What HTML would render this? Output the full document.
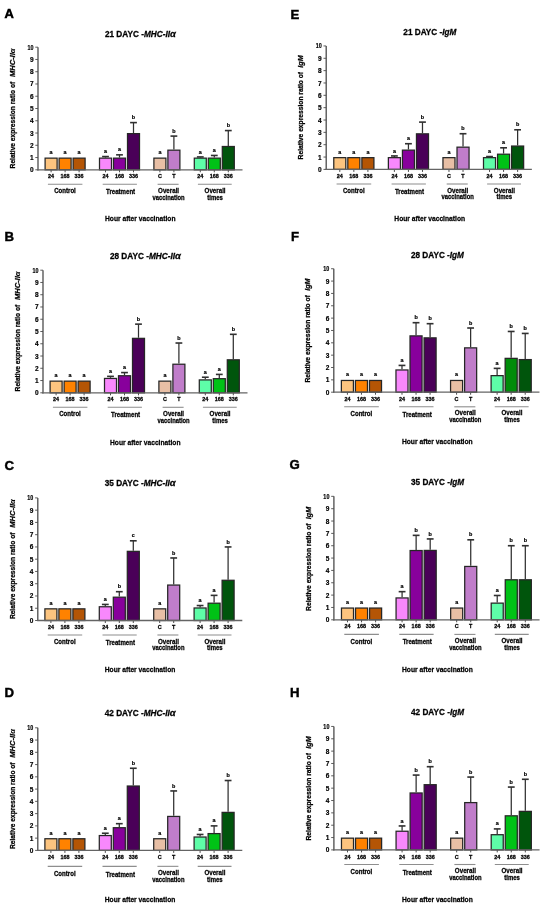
<!DOCTYPE html>
<html><head><meta charset="utf-8"><style>
html,body{margin:0;padding:0;background:#fff;overflow:hidden;}
body{width:550px;height:912px;}
#wrap{position:relative;width:550px;height:912px;overflow:hidden;}
#ss{position:absolute;left:0;top:0;width:1100px;height:1824px;transform:scale(0.5);transform-origin:0 0;will-change:transform;}
svg{display:block;filter:blur(0.8px);}
text{font-family:"Liberation Sans",sans-serif;font-weight:bold;fill:#000;stroke:#000;stroke-width:0.26px;}
.al{font-style:italic;font-size:1.15em;}
.al2{font-style:italic;stroke-width:0.1px;}
.L{font-size:13.2px;fill:#000;stroke:#000;stroke-width:0.45px;}
.T{font-size:8.2px;}
.Y{font-size:7.1px;}
.k{font-size:6.5px;stroke-width:0.2px;}
.k2{font-size:5.4px;stroke-width:0.26px;}
.s{font-size:5.4px;stroke-width:0.2px;}
.g{font-size:6.3px;}
.X{font-size:7.4px;}
</style></head><body><div id="wrap"><div id="ss">
<svg width="1100" height="1824" viewBox="0 0 550 912">
<rect width="550" height="912" fill="#fff"/>
<text x="4.4" y="18.2" class="L">A</text>
<g transform="translate(38,169.8)">
<text x="66.95" y="-133.3" class="T" textLength="70.9" lengthAdjust="spacingAndGlyphs">21 DAYC -<tspan font-style="italic">MHC-II</tspan><tspan class="al">α</tspan></text>
<g transform="translate(-23.3,0) rotate(-90)"><text x="1.4" class="Y" textLength="86.6" lengthAdjust="spacingAndGlyphs">Relative expression ratio of</text><text x="92.7" class="Y" textLength="28.6" lengthAdjust="spacingAndGlyphs"><tspan font-style="italic">MHC-II</tspan><tspan class="al2">α</tspan></text></g>
<path d="M0,-122.6V0.6" stroke="#4c4c4c" stroke-width="1.3" fill="none"/>
<path d="M-2.7,0H0M-2.7,-12.26H0M-2.7,-24.52H0M-2.7,-36.78H0M-2.7,-49.04H0M-2.7,-61.3H0M-2.7,-73.56H0M-2.7,-85.82H0M-2.7,-98.08H0M-2.7,-110.34H0M-2.7,-122.6H0" stroke="#4c4c4c" stroke-width="0.9" fill="none"/>
<text x="-4.5" y="2.5" class="k" text-anchor="end">0</text>
<text x="-4.5" y="-9.76" class="k" text-anchor="end">1</text>
<text x="-4.5" y="-22.02" class="k" text-anchor="end">2</text>
<text x="-4.5" y="-34.28" class="k" text-anchor="end">3</text>
<text x="-4.5" y="-46.54" class="k" text-anchor="end">4</text>
<text x="-4.5" y="-58.8" class="k" text-anchor="end">5</text>
<text x="-4.5" y="-71.06" class="k" text-anchor="end">6</text>
<text x="-4.5" y="-83.32" class="k" text-anchor="end">7</text>
<text x="-4.5" y="-95.58" class="k" text-anchor="end">8</text>
<text x="-4.5" y="-107.84" class="k" text-anchor="end">9</text>
<text x="-4.5" y="-120.1" class="k" text-anchor="end" textLength="6" lengthAdjust="spacingAndGlyphs">10</text>
<rect x="7.1" y="-11.66" width="12" height="11.66" fill="#FCC47F" stroke="#262626" stroke-width="1.25"/>
<text x="13.1" y="-15.66" class="s" text-anchor="middle">a</text>
<path d="M13.1,0V2.5" stroke="#3a3a3a" stroke-width="0.9"/>
<text x="13.1" y="8.6" class="k2" text-anchor="middle">24</text>
<rect x="21.1" y="-11.66" width="12" height="11.66" fill="#FF8200" stroke="#262626" stroke-width="1.25"/>
<text x="27.1" y="-15.66" class="s" text-anchor="middle">a</text>
<path d="M27.1,0V2.5" stroke="#3a3a3a" stroke-width="0.9"/>
<text x="27.1" y="8.6" class="k2" text-anchor="middle">168</text>
<rect x="35.1" y="-11.66" width="12" height="11.66" fill="#B45505" stroke="#262626" stroke-width="1.25"/>
<text x="41.1" y="-15.66" class="s" text-anchor="middle">a</text>
<path d="M41.1,0V2.5" stroke="#3a3a3a" stroke-width="0.9"/>
<text x="41.1" y="8.6" class="k2" text-anchor="middle">336</text>
<path d="M9.9,14.5H44.4" stroke="#8e8e8e" stroke-width="1.1"/>
<text x="16.2" y="23.7" class="g" textLength="21.6" lengthAdjust="spacingAndGlyphs">Control</text>
<rect x="61.5" y="-11.66" width="12" height="11.66" fill="#F888FC" stroke="#262626" stroke-width="1.25"/>
<path d="M67.5,-12.26V-13.24" stroke="#303030" stroke-width="1.25" fill="none"/><path d="M64.1,-13.24H70.9" stroke="#303030" stroke-width="1.6" fill="none"/>
<text x="67.5" y="-16.64" class="s" text-anchor="middle">a</text>
<path d="M67.5,0V2.5" stroke="#3a3a3a" stroke-width="0.9"/>
<text x="67.5" y="8.6" class="k2" text-anchor="middle">24</text>
<rect x="75.5" y="-11.66" width="12" height="11.66" fill="#88009C" stroke="#262626" stroke-width="1.25"/>
<path d="M81.5,-12.26V-14.96" stroke="#303030" stroke-width="1.25" fill="none"/><path d="M78.1,-14.96H84.9" stroke="#303030" stroke-width="1.6" fill="none"/>
<text x="81.5" y="-18.36" class="s" text-anchor="middle">a</text>
<path d="M81.5,0V2.5" stroke="#3a3a3a" stroke-width="0.9"/>
<text x="81.5" y="8.6" class="k2" text-anchor="middle">168</text>
<rect x="89.5" y="-36.18" width="12" height="36.18" fill="#4A0058" stroke="#262626" stroke-width="1.25"/>
<path d="M95.5,-36.78V-47.2" stroke="#303030" stroke-width="1.25" fill="none"/><path d="M92.1,-47.2H98.9" stroke="#303030" stroke-width="1.6" fill="none"/>
<text x="95.5" y="-50.6" class="s" text-anchor="middle">b</text>
<path d="M95.5,0V2.5" stroke="#3a3a3a" stroke-width="0.9"/>
<text x="95.5" y="8.6" class="k2" text-anchor="middle">336</text>
<path d="M64.7,14.5H98.9" stroke="#8e8e8e" stroke-width="1.1"/>
<text x="68.05" y="24.5" class="g" textLength="29.1" lengthAdjust="spacingAndGlyphs">Treatment</text>
<rect x="115.9" y="-11.66" width="12" height="11.66" fill="#E8BFA5" stroke="#262626" stroke-width="1.25"/>
<text x="121.9" y="-15.66" class="s" text-anchor="middle">a</text>
<path d="M121.9,0V2.5" stroke="#3a3a3a" stroke-width="0.9"/>
<text x="121.9" y="8.6" class="k2" text-anchor="middle">C</text>
<rect x="129.9" y="-19.63" width="12" height="19.63" fill="#C07DCA" stroke="#262626" stroke-width="1.25"/>
<path d="M135.9,-20.23V-33.71" stroke="#303030" stroke-width="1.25" fill="none"/><path d="M132.5,-33.71H139.3" stroke="#303030" stroke-width="1.6" fill="none"/>
<text x="135.9" y="-37.11" class="s" text-anchor="middle">b</text>
<path d="M135.9,0V2.5" stroke="#3a3a3a" stroke-width="0.9"/>
<text x="135.9" y="8.6" class="k2" text-anchor="middle">T</text>
<path d="M119.6,14.5H140.6" stroke="#8e8e8e" stroke-width="1.1"/>
<text x="120.1" y="23" class="g" textLength="21.0" lengthAdjust="spacingAndGlyphs">Overall</text>
<text x="114.5" y="29.9" class="g" textLength="32.2" lengthAdjust="spacingAndGlyphs">vaccination</text>
<rect x="156.3" y="-11.66" width="12" height="11.66" fill="#5EFDA8" stroke="#262626" stroke-width="1.25"/>
<path d="M162.3,-12.26V-12.87" stroke="#303030" stroke-width="1.25" fill="none"/><path d="M158.9,-12.87H165.7" stroke="#303030" stroke-width="1.6" fill="none"/>
<text x="162.3" y="-16.27" class="s" text-anchor="middle">a</text>
<path d="M162.3,0V2.5" stroke="#3a3a3a" stroke-width="0.9"/>
<text x="162.3" y="8.6" class="k2" text-anchor="middle">24</text>
<rect x="170.3" y="-11.66" width="12" height="11.66" fill="#00C216" stroke="#262626" stroke-width="1.25"/>
<path d="M176.3,-12.26V-14.34" stroke="#303030" stroke-width="1.25" fill="none"/><path d="M172.9,-14.34H179.7" stroke="#303030" stroke-width="1.6" fill="none"/>
<text x="176.3" y="-17.74" class="s" text-anchor="middle">a</text>
<path d="M176.3,0V2.5" stroke="#3a3a3a" stroke-width="0.9"/>
<text x="176.3" y="8.6" class="k2" text-anchor="middle">168</text>
<rect x="184.3" y="-23.31" width="12" height="23.31" fill="#00550C" stroke="#262626" stroke-width="1.25"/>
<path d="M190.3,-23.91V-39.23" stroke="#303030" stroke-width="1.25" fill="none"/><path d="M186.9,-39.23H193.7" stroke="#303030" stroke-width="1.6" fill="none"/>
<text x="190.3" y="-42.63" class="s" text-anchor="middle">b</text>
<path d="M190.3,0V2.5" stroke="#3a3a3a" stroke-width="0.9"/>
<text x="190.3" y="8.6" class="k2" text-anchor="middle">336</text>
<path d="M159.9,14.5H193.7" stroke="#8e8e8e" stroke-width="1.1"/>
<text x="166.6" y="23" class="g" textLength="21.0" lengthAdjust="spacingAndGlyphs">Overall</text>
<text x="169.3" y="29.9" class="g" textLength="15.6" lengthAdjust="spacingAndGlyphs">times</text>
<path d="M-0.65,0H204.5" stroke="#646464" stroke-width="1.3" fill="none"/>
<text x="67" y="51.4" class="X" textLength="70.5" lengthAdjust="spacingAndGlyphs">Hour after vaccination</text>
</g>
<text x="4.5" y="241.3" class="L">B</text>
<g transform="translate(43,392.8)">
<text x="66.95" y="-133.7" class="T" textLength="70.9" lengthAdjust="spacingAndGlyphs">28 DAYC -<tspan font-style="italic">MHC-II</tspan><tspan class="al">α</tspan></text>
<g transform="translate(-23.3,0) rotate(-90)"><text x="1.4" class="Y" textLength="86.6" lengthAdjust="spacingAndGlyphs">Relative expression ratio of</text><text x="92.7" class="Y" textLength="28.6" lengthAdjust="spacingAndGlyphs"><tspan font-style="italic">MHC-II</tspan><tspan class="al2">α</tspan></text></g>
<path d="M0,-122.6V0.6" stroke="#4c4c4c" stroke-width="1.3" fill="none"/>
<path d="M-2.7,0H0M-2.7,-12.26H0M-2.7,-24.52H0M-2.7,-36.78H0M-2.7,-49.04H0M-2.7,-61.3H0M-2.7,-73.56H0M-2.7,-85.82H0M-2.7,-98.08H0M-2.7,-110.34H0M-2.7,-122.6H0" stroke="#4c4c4c" stroke-width="0.9" fill="none"/>
<text x="-4.5" y="2.5" class="k" text-anchor="end">0</text>
<text x="-4.5" y="-9.76" class="k" text-anchor="end">1</text>
<text x="-4.5" y="-22.02" class="k" text-anchor="end">2</text>
<text x="-4.5" y="-34.28" class="k" text-anchor="end">3</text>
<text x="-4.5" y="-46.54" class="k" text-anchor="end">4</text>
<text x="-4.5" y="-58.8" class="k" text-anchor="end">5</text>
<text x="-4.5" y="-71.06" class="k" text-anchor="end">6</text>
<text x="-4.5" y="-83.32" class="k" text-anchor="end">7</text>
<text x="-4.5" y="-95.58" class="k" text-anchor="end">8</text>
<text x="-4.5" y="-107.84" class="k" text-anchor="end">9</text>
<text x="-4.5" y="-120.1" class="k" text-anchor="end" textLength="6" lengthAdjust="spacingAndGlyphs">10</text>
<rect x="7.1" y="-11.66" width="12" height="11.66" fill="#FCC47F" stroke="#262626" stroke-width="1.25"/>
<text x="13.1" y="-15.66" class="s" text-anchor="middle">a</text>
<path d="M13.1,0V2.5" stroke="#3a3a3a" stroke-width="0.9"/>
<text x="13.1" y="8.6" class="k2" text-anchor="middle">24</text>
<rect x="21.1" y="-11.66" width="12" height="11.66" fill="#FF8200" stroke="#262626" stroke-width="1.25"/>
<text x="27.1" y="-15.66" class="s" text-anchor="middle">a</text>
<path d="M27.1,0V2.5" stroke="#3a3a3a" stroke-width="0.9"/>
<text x="27.1" y="8.6" class="k2" text-anchor="middle">168</text>
<rect x="35.1" y="-11.66" width="12" height="11.66" fill="#B45505" stroke="#262626" stroke-width="1.25"/>
<text x="41.1" y="-15.66" class="s" text-anchor="middle">a</text>
<path d="M41.1,0V2.5" stroke="#3a3a3a" stroke-width="0.9"/>
<text x="41.1" y="8.6" class="k2" text-anchor="middle">336</text>
<path d="M9.9,14.5H44.4" stroke="#8e8e8e" stroke-width="1.1"/>
<text x="16.2" y="23.7" class="g" textLength="21.6" lengthAdjust="spacingAndGlyphs">Control</text>
<rect x="61.5" y="-14.36" width="12" height="14.36" fill="#F888FC" stroke="#262626" stroke-width="1.25"/>
<path d="M67.5,-14.96V-16.43" stroke="#303030" stroke-width="1.25" fill="none"/><path d="M64.1,-16.43H70.9" stroke="#303030" stroke-width="1.6" fill="none"/>
<text x="67.5" y="-19.83" class="s" text-anchor="middle">a</text>
<path d="M67.5,0V2.5" stroke="#3a3a3a" stroke-width="0.9"/>
<text x="67.5" y="8.6" class="k2" text-anchor="middle">24</text>
<rect x="75.5" y="-17.05" width="12" height="17.05" fill="#88009C" stroke="#262626" stroke-width="1.25"/>
<path d="M81.5,-17.65V-20.23" stroke="#303030" stroke-width="1.25" fill="none"/><path d="M78.1,-20.23H84.9" stroke="#303030" stroke-width="1.6" fill="none"/>
<text x="81.5" y="-23.63" class="s" text-anchor="middle">a</text>
<path d="M81.5,0V2.5" stroke="#3a3a3a" stroke-width="0.9"/>
<text x="81.5" y="8.6" class="k2" text-anchor="middle">168</text>
<rect x="89.5" y="-54.45" width="12" height="54.45" fill="#4A0058" stroke="#262626" stroke-width="1.25"/>
<path d="M95.5,-55.05V-68.66" stroke="#303030" stroke-width="1.25" fill="none"/><path d="M92.1,-68.66H98.9" stroke="#303030" stroke-width="1.6" fill="none"/>
<text x="95.5" y="-72.06" class="s" text-anchor="middle">b</text>
<path d="M95.5,0V2.5" stroke="#3a3a3a" stroke-width="0.9"/>
<text x="95.5" y="8.6" class="k2" text-anchor="middle">336</text>
<path d="M64.7,14.5H98.9" stroke="#8e8e8e" stroke-width="1.1"/>
<text x="68.05" y="24.5" class="g" textLength="29.1" lengthAdjust="spacingAndGlyphs">Treatment</text>
<rect x="115.9" y="-11.66" width="12" height="11.66" fill="#E8BFA5" stroke="#262626" stroke-width="1.25"/>
<text x="121.9" y="-15.66" class="s" text-anchor="middle">a</text>
<path d="M121.9,0V2.5" stroke="#3a3a3a" stroke-width="0.9"/>
<text x="121.9" y="8.6" class="k2" text-anchor="middle">C</text>
<rect x="129.9" y="-28.58" width="12" height="28.58" fill="#C07DCA" stroke="#262626" stroke-width="1.25"/>
<path d="M135.9,-29.18V-49.78" stroke="#303030" stroke-width="1.25" fill="none"/><path d="M132.5,-49.78H139.3" stroke="#303030" stroke-width="1.6" fill="none"/>
<text x="135.9" y="-53.18" class="s" text-anchor="middle">b</text>
<path d="M135.9,0V2.5" stroke="#3a3a3a" stroke-width="0.9"/>
<text x="135.9" y="8.6" class="k2" text-anchor="middle">T</text>
<path d="M119.6,14.5H140.6" stroke="#8e8e8e" stroke-width="1.1"/>
<text x="120.1" y="23" class="g" textLength="21.0" lengthAdjust="spacingAndGlyphs">Overall</text>
<text x="114.5" y="29.9" class="g" textLength="32.2" lengthAdjust="spacingAndGlyphs">vaccination</text>
<rect x="156.3" y="-12.89" width="12" height="12.89" fill="#5EFDA8" stroke="#262626" stroke-width="1.25"/>
<path d="M162.3,-13.49V-15.57" stroke="#303030" stroke-width="1.25" fill="none"/><path d="M158.9,-15.57H165.7" stroke="#303030" stroke-width="1.6" fill="none"/>
<text x="162.3" y="-18.97" class="s" text-anchor="middle">a</text>
<path d="M162.3,0V2.5" stroke="#3a3a3a" stroke-width="0.9"/>
<text x="162.3" y="8.6" class="k2" text-anchor="middle">24</text>
<rect x="170.3" y="-14.11" width="12" height="14.11" fill="#00C216" stroke="#262626" stroke-width="1.25"/>
<path d="M176.3,-14.71V-18.39" stroke="#303030" stroke-width="1.25" fill="none"/><path d="M172.9,-18.39H179.7" stroke="#303030" stroke-width="1.6" fill="none"/>
<text x="176.3" y="-21.79" class="s" text-anchor="middle">a</text>
<path d="M176.3,0V2.5" stroke="#3a3a3a" stroke-width="0.9"/>
<text x="176.3" y="8.6" class="k2" text-anchor="middle">168</text>
<rect x="184.3" y="-32.99" width="12" height="32.99" fill="#00550C" stroke="#262626" stroke-width="1.25"/>
<path d="M190.3,-33.59V-58.48" stroke="#303030" stroke-width="1.25" fill="none"/><path d="M186.9,-58.48H193.7" stroke="#303030" stroke-width="1.6" fill="none"/>
<text x="190.3" y="-61.88" class="s" text-anchor="middle">b</text>
<path d="M190.3,0V2.5" stroke="#3a3a3a" stroke-width="0.9"/>
<text x="190.3" y="8.6" class="k2" text-anchor="middle">336</text>
<path d="M159.9,14.5H193.7" stroke="#8e8e8e" stroke-width="1.1"/>
<text x="166.6" y="23" class="g" textLength="21.0" lengthAdjust="spacingAndGlyphs">Overall</text>
<text x="169.3" y="29.9" class="g" textLength="15.6" lengthAdjust="spacingAndGlyphs">times</text>
<path d="M-0.65,0H204.5" stroke="#646464" stroke-width="1.3" fill="none"/>
<text x="67" y="52" class="X" textLength="70.5" lengthAdjust="spacingAndGlyphs">Hour after vaccination</text>
</g>
<text x="4.5" y="469.6" class="L">C</text>
<g transform="translate(37.8,620.5)">
<text x="66.95" y="-134.3" class="T" textLength="70.9" lengthAdjust="spacingAndGlyphs">35 DAYC -<tspan font-style="italic">MHC-II</tspan><tspan class="al">α</tspan></text>
<g transform="translate(-23.3,0) rotate(-90)"><text x="1.4" class="Y" textLength="86.6" lengthAdjust="spacingAndGlyphs">Relative expression ratio of</text><text x="92.7" class="Y" textLength="28.6" lengthAdjust="spacingAndGlyphs"><tspan font-style="italic">MHC-II</tspan><tspan class="al2">α</tspan></text></g>
<path d="M0,-122.6V0.6" stroke="#4c4c4c" stroke-width="1.3" fill="none"/>
<path d="M-2.7,0H0M-2.7,-12.26H0M-2.7,-24.52H0M-2.7,-36.78H0M-2.7,-49.04H0M-2.7,-61.3H0M-2.7,-73.56H0M-2.7,-85.82H0M-2.7,-98.08H0M-2.7,-110.34H0M-2.7,-122.6H0" stroke="#4c4c4c" stroke-width="0.9" fill="none"/>
<text x="-4.5" y="2.5" class="k" text-anchor="end">0</text>
<text x="-4.5" y="-9.76" class="k" text-anchor="end">1</text>
<text x="-4.5" y="-22.02" class="k" text-anchor="end">2</text>
<text x="-4.5" y="-34.28" class="k" text-anchor="end">3</text>
<text x="-4.5" y="-46.54" class="k" text-anchor="end">4</text>
<text x="-4.5" y="-58.8" class="k" text-anchor="end">5</text>
<text x="-4.5" y="-71.06" class="k" text-anchor="end">6</text>
<text x="-4.5" y="-83.32" class="k" text-anchor="end">7</text>
<text x="-4.5" y="-95.58" class="k" text-anchor="end">8</text>
<text x="-4.5" y="-107.84" class="k" text-anchor="end">9</text>
<text x="-4.5" y="-120.1" class="k" text-anchor="end" textLength="6" lengthAdjust="spacingAndGlyphs">10</text>
<rect x="7.1" y="-11.66" width="12" height="11.66" fill="#FCC47F" stroke="#262626" stroke-width="1.25"/>
<text x="13.1" y="-15.66" class="s" text-anchor="middle">a</text>
<path d="M13.1,0V2.5" stroke="#3a3a3a" stroke-width="0.9"/>
<text x="13.1" y="8.6" class="k2" text-anchor="middle">24</text>
<rect x="21.1" y="-11.66" width="12" height="11.66" fill="#FF8200" stroke="#262626" stroke-width="1.25"/>
<text x="27.1" y="-15.66" class="s" text-anchor="middle">a</text>
<path d="M27.1,0V2.5" stroke="#3a3a3a" stroke-width="0.9"/>
<text x="27.1" y="8.6" class="k2" text-anchor="middle">168</text>
<rect x="35.1" y="-11.66" width="12" height="11.66" fill="#B45505" stroke="#262626" stroke-width="1.25"/>
<text x="41.1" y="-15.66" class="s" text-anchor="middle">a</text>
<path d="M41.1,0V2.5" stroke="#3a3a3a" stroke-width="0.9"/>
<text x="41.1" y="8.6" class="k2" text-anchor="middle">336</text>
<path d="M9.9,14.5H44.4" stroke="#8e8e8e" stroke-width="1.1"/>
<text x="16.2" y="23.7" class="g" textLength="21.6" lengthAdjust="spacingAndGlyphs">Control</text>
<rect x="61.5" y="-13.74" width="12" height="13.74" fill="#F888FC" stroke="#262626" stroke-width="1.25"/>
<path d="M67.5,-14.34V-16.06" stroke="#303030" stroke-width="1.25" fill="none"/><path d="M64.1,-16.06H70.9" stroke="#303030" stroke-width="1.6" fill="none"/>
<text x="67.5" y="-19.46" class="s" text-anchor="middle">a</text>
<path d="M67.5,0V2.5" stroke="#3a3a3a" stroke-width="0.9"/>
<text x="67.5" y="8.6" class="k2" text-anchor="middle">24</text>
<rect x="75.5" y="-23.31" width="12" height="23.31" fill="#88009C" stroke="#262626" stroke-width="1.25"/>
<path d="M81.5,-23.91V-28.81" stroke="#303030" stroke-width="1.25" fill="none"/><path d="M78.1,-28.81H84.9" stroke="#303030" stroke-width="1.6" fill="none"/>
<text x="81.5" y="-32.21" class="s" text-anchor="middle">b</text>
<path d="M81.5,0V2.5" stroke="#3a3a3a" stroke-width="0.9"/>
<text x="81.5" y="8.6" class="k2" text-anchor="middle">168</text>
<rect x="89.5" y="-69.16" width="12" height="69.16" fill="#4A0058" stroke="#262626" stroke-width="1.25"/>
<path d="M95.5,-69.76V-79.69" stroke="#303030" stroke-width="1.25" fill="none"/><path d="M92.1,-79.69H98.9" stroke="#303030" stroke-width="1.6" fill="none"/>
<text x="95.5" y="-83.09" class="s" text-anchor="middle">c</text>
<path d="M95.5,0V2.5" stroke="#3a3a3a" stroke-width="0.9"/>
<text x="95.5" y="8.6" class="k2" text-anchor="middle">336</text>
<path d="M64.7,14.5H98.9" stroke="#8e8e8e" stroke-width="1.1"/>
<text x="68.05" y="24.5" class="g" textLength="29.1" lengthAdjust="spacingAndGlyphs">Treatment</text>
<rect x="115.9" y="-11.66" width="12" height="11.66" fill="#E8BFA5" stroke="#262626" stroke-width="1.25"/>
<text x="121.9" y="-15.66" class="s" text-anchor="middle">a</text>
<path d="M121.9,0V2.5" stroke="#3a3a3a" stroke-width="0.9"/>
<text x="121.9" y="8.6" class="k2" text-anchor="middle">C</text>
<rect x="129.9" y="-35.44" width="12" height="35.44" fill="#C07DCA" stroke="#262626" stroke-width="1.25"/>
<path d="M135.9,-36.04V-62.53" stroke="#303030" stroke-width="1.25" fill="none"/><path d="M132.5,-62.53H139.3" stroke="#303030" stroke-width="1.6" fill="none"/>
<text x="135.9" y="-65.93" class="s" text-anchor="middle">b</text>
<path d="M135.9,0V2.5" stroke="#3a3a3a" stroke-width="0.9"/>
<text x="135.9" y="8.6" class="k2" text-anchor="middle">T</text>
<path d="M119.6,14.5H140.6" stroke="#8e8e8e" stroke-width="1.1"/>
<text x="120.1" y="23" class="g" textLength="21.0" lengthAdjust="spacingAndGlyphs">Overall</text>
<text x="114.5" y="29.9" class="g" textLength="32.2" lengthAdjust="spacingAndGlyphs">vaccination</text>
<rect x="156.3" y="-12.52" width="12" height="12.52" fill="#5EFDA8" stroke="#262626" stroke-width="1.25"/>
<path d="M162.3,-13.12V-14.96" stroke="#303030" stroke-width="1.25" fill="none"/><path d="M158.9,-14.96H165.7" stroke="#303030" stroke-width="1.6" fill="none"/>
<text x="162.3" y="-18.36" class="s" text-anchor="middle">a</text>
<path d="M162.3,0V2.5" stroke="#3a3a3a" stroke-width="0.9"/>
<text x="162.3" y="8.6" class="k2" text-anchor="middle">24</text>
<rect x="170.3" y="-17.3" width="12" height="17.3" fill="#00C216" stroke="#262626" stroke-width="1.25"/>
<path d="M176.3,-17.9V-25.13" stroke="#303030" stroke-width="1.25" fill="none"/><path d="M172.9,-25.13H179.7" stroke="#303030" stroke-width="1.6" fill="none"/>
<text x="176.3" y="-28.53" class="s" text-anchor="middle">a</text>
<path d="M176.3,0V2.5" stroke="#3a3a3a" stroke-width="0.9"/>
<text x="176.3" y="8.6" class="k2" text-anchor="middle">168</text>
<rect x="184.3" y="-40.23" width="12" height="40.23" fill="#00550C" stroke="#262626" stroke-width="1.25"/>
<path d="M190.3,-40.83V-73.56" stroke="#303030" stroke-width="1.25" fill="none"/><path d="M186.9,-73.56H193.7" stroke="#303030" stroke-width="1.6" fill="none"/>
<text x="190.3" y="-76.96" class="s" text-anchor="middle">b</text>
<path d="M190.3,0V2.5" stroke="#3a3a3a" stroke-width="0.9"/>
<text x="190.3" y="8.6" class="k2" text-anchor="middle">336</text>
<path d="M159.9,14.5H193.7" stroke="#8e8e8e" stroke-width="1.1"/>
<text x="166.6" y="23" class="g" textLength="21.0" lengthAdjust="spacingAndGlyphs">Overall</text>
<text x="169.3" y="29.9" class="g" textLength="15.6" lengthAdjust="spacingAndGlyphs">times</text>
<path d="M-0.65,0H204.5" stroke="#646464" stroke-width="1.3" fill="none"/>
<text x="67" y="51.4" class="X" textLength="70.5" lengthAdjust="spacingAndGlyphs">Hour after vaccination</text>
</g>
<text x="4.5" y="697.3" class="L">D</text>
<g transform="translate(37.8,850.4)">
<text x="66.95" y="-134" class="T" textLength="70.9" lengthAdjust="spacingAndGlyphs">42 DAYC -<tspan font-style="italic">MHC-II</tspan><tspan class="al">α</tspan></text>
<g transform="translate(-23.3,0) rotate(-90)"><text x="1.4" class="Y" textLength="86.6" lengthAdjust="spacingAndGlyphs">Relative expression ratio of</text><text x="92.7" class="Y" textLength="28.6" lengthAdjust="spacingAndGlyphs"><tspan font-style="italic">MHC-II</tspan><tspan class="al2">α</tspan></text></g>
<path d="M0,-122.6V0.6" stroke="#4c4c4c" stroke-width="1.3" fill="none"/>
<path d="M-2.7,0H0M-2.7,-12.26H0M-2.7,-24.52H0M-2.7,-36.78H0M-2.7,-49.04H0M-2.7,-61.3H0M-2.7,-73.56H0M-2.7,-85.82H0M-2.7,-98.08H0M-2.7,-110.34H0M-2.7,-122.6H0" stroke="#4c4c4c" stroke-width="0.9" fill="none"/>
<text x="-4.5" y="2.5" class="k" text-anchor="end">0</text>
<text x="-4.5" y="-9.76" class="k" text-anchor="end">1</text>
<text x="-4.5" y="-22.02" class="k" text-anchor="end">2</text>
<text x="-4.5" y="-34.28" class="k" text-anchor="end">3</text>
<text x="-4.5" y="-46.54" class="k" text-anchor="end">4</text>
<text x="-4.5" y="-58.8" class="k" text-anchor="end">5</text>
<text x="-4.5" y="-71.06" class="k" text-anchor="end">6</text>
<text x="-4.5" y="-83.32" class="k" text-anchor="end">7</text>
<text x="-4.5" y="-95.58" class="k" text-anchor="end">8</text>
<text x="-4.5" y="-107.84" class="k" text-anchor="end">9</text>
<text x="-4.5" y="-120.1" class="k" text-anchor="end" textLength="6" lengthAdjust="spacingAndGlyphs">10</text>
<rect x="7.1" y="-11.66" width="12" height="11.66" fill="#FCC47F" stroke="#262626" stroke-width="1.25"/>
<text x="13.1" y="-15.66" class="s" text-anchor="middle">a</text>
<path d="M13.1,0V2.5" stroke="#3a3a3a" stroke-width="0.9"/>
<text x="13.1" y="8.6" class="k2" text-anchor="middle">24</text>
<rect x="21.1" y="-11.66" width="12" height="11.66" fill="#FF8200" stroke="#262626" stroke-width="1.25"/>
<text x="27.1" y="-15.66" class="s" text-anchor="middle">a</text>
<path d="M27.1,0V2.5" stroke="#3a3a3a" stroke-width="0.9"/>
<text x="27.1" y="8.6" class="k2" text-anchor="middle">168</text>
<rect x="35.1" y="-11.66" width="12" height="11.66" fill="#B45505" stroke="#262626" stroke-width="1.25"/>
<text x="41.1" y="-15.66" class="s" text-anchor="middle">a</text>
<path d="M41.1,0V2.5" stroke="#3a3a3a" stroke-width="0.9"/>
<text x="41.1" y="8.6" class="k2" text-anchor="middle">336</text>
<path d="M9.9,15.94H44.4" stroke="#8e8e8e" stroke-width="1.1"/>
<text x="16.2" y="25.5" class="g" textLength="21.6" lengthAdjust="spacingAndGlyphs">Control</text>
<rect x="61.5" y="-14.85" width="12" height="14.85" fill="#F888FC" stroke="#262626" stroke-width="1.25"/>
<path d="M67.5,-15.45V-17.16" stroke="#303030" stroke-width="1.25" fill="none"/><path d="M64.1,-17.16H70.9" stroke="#303030" stroke-width="1.6" fill="none"/>
<text x="67.5" y="-20.56" class="s" text-anchor="middle">a</text>
<path d="M67.5,0V2.5" stroke="#3a3a3a" stroke-width="0.9"/>
<text x="67.5" y="8.6" class="k2" text-anchor="middle">24</text>
<rect x="75.5" y="-22.69" width="12" height="22.69" fill="#88009C" stroke="#262626" stroke-width="1.25"/>
<path d="M81.5,-23.29V-26.73" stroke="#303030" stroke-width="1.25" fill="none"/><path d="M78.1,-26.73H84.9" stroke="#303030" stroke-width="1.6" fill="none"/>
<text x="81.5" y="-30.13" class="s" text-anchor="middle">a</text>
<path d="M81.5,0V2.5" stroke="#3a3a3a" stroke-width="0.9"/>
<text x="81.5" y="8.6" class="k2" text-anchor="middle">168</text>
<rect x="89.5" y="-64.38" width="12" height="64.38" fill="#4A0058" stroke="#262626" stroke-width="1.25"/>
<path d="M95.5,-64.98V-82.14" stroke="#303030" stroke-width="1.25" fill="none"/><path d="M92.1,-82.14H98.9" stroke="#303030" stroke-width="1.6" fill="none"/>
<text x="95.5" y="-85.54" class="s" text-anchor="middle">b</text>
<path d="M95.5,0V2.5" stroke="#3a3a3a" stroke-width="0.9"/>
<text x="95.5" y="8.6" class="k2" text-anchor="middle">336</text>
<path d="M64.7,15.94H98.9" stroke="#8e8e8e" stroke-width="1.1"/>
<text x="68.05" y="26.3" class="g" textLength="29.1" lengthAdjust="spacingAndGlyphs">Treatment</text>
<rect x="115.9" y="-11.66" width="12" height="11.66" fill="#E8BFA5" stroke="#262626" stroke-width="1.25"/>
<text x="121.9" y="-15.66" class="s" text-anchor="middle">a</text>
<path d="M121.9,0V2.5" stroke="#3a3a3a" stroke-width="0.9"/>
<text x="121.9" y="8.6" class="k2" text-anchor="middle">C</text>
<rect x="129.9" y="-33.97" width="12" height="33.97" fill="#C07DCA" stroke="#262626" stroke-width="1.25"/>
<path d="M135.9,-34.57V-59.46" stroke="#303030" stroke-width="1.25" fill="none"/><path d="M132.5,-59.46H139.3" stroke="#303030" stroke-width="1.6" fill="none"/>
<text x="135.9" y="-62.86" class="s" text-anchor="middle">b</text>
<path d="M135.9,0V2.5" stroke="#3a3a3a" stroke-width="0.9"/>
<text x="135.9" y="8.6" class="k2" text-anchor="middle">T</text>
<path d="M119.6,15.94H140.6" stroke="#8e8e8e" stroke-width="1.1"/>
<text x="120.1" y="24.8" class="g" textLength="21.0" lengthAdjust="spacingAndGlyphs">Overall</text>
<text x="114.5" y="31.7" class="g" textLength="32.2" lengthAdjust="spacingAndGlyphs">vaccination</text>
<rect x="156.3" y="-13.38" width="12" height="13.38" fill="#5EFDA8" stroke="#262626" stroke-width="1.25"/>
<path d="M162.3,-13.98V-15.94" stroke="#303030" stroke-width="1.25" fill="none"/><path d="M158.9,-15.94H165.7" stroke="#303030" stroke-width="1.6" fill="none"/>
<text x="162.3" y="-19.34" class="s" text-anchor="middle">a</text>
<path d="M162.3,0V2.5" stroke="#3a3a3a" stroke-width="0.9"/>
<text x="162.3" y="8.6" class="k2" text-anchor="middle">24</text>
<rect x="170.3" y="-16.81" width="12" height="16.81" fill="#00C216" stroke="#262626" stroke-width="1.25"/>
<path d="M176.3,-17.41V-24.52" stroke="#303030" stroke-width="1.25" fill="none"/><path d="M172.9,-24.52H179.7" stroke="#303030" stroke-width="1.6" fill="none"/>
<text x="176.3" y="-27.92" class="s" text-anchor="middle">a</text>
<path d="M176.3,0V2.5" stroke="#3a3a3a" stroke-width="0.9"/>
<text x="176.3" y="8.6" class="k2" text-anchor="middle">168</text>
<rect x="184.3" y="-38.02" width="12" height="38.02" fill="#00550C" stroke="#262626" stroke-width="1.25"/>
<path d="M190.3,-38.62V-69.88" stroke="#303030" stroke-width="1.25" fill="none"/><path d="M186.9,-69.88H193.7" stroke="#303030" stroke-width="1.6" fill="none"/>
<text x="190.3" y="-73.28" class="s" text-anchor="middle">b</text>
<path d="M190.3,0V2.5" stroke="#3a3a3a" stroke-width="0.9"/>
<text x="190.3" y="8.6" class="k2" text-anchor="middle">336</text>
<path d="M159.9,15.94H193.7" stroke="#8e8e8e" stroke-width="1.1"/>
<text x="166.6" y="24.8" class="g" textLength="21.0" lengthAdjust="spacingAndGlyphs">Overall</text>
<text x="169.3" y="31.7" class="g" textLength="15.6" lengthAdjust="spacingAndGlyphs">times</text>
<path d="M-0.65,0H204.5" stroke="#646464" stroke-width="1.3" fill="none"/>
<text x="67" y="51.4" class="X" textLength="70.5" lengthAdjust="spacingAndGlyphs">Hour after vaccination</text>
</g>
<text x="290.5" y="18.5" class="L">E</text>
<g transform="translate(326.2,169.4) scale(1.0035,1.007)">
<text x="76.9" y="-133.3" class="T" textLength="52.8" lengthAdjust="spacingAndGlyphs">21 DAYC -<tspan font-style="italic">IgM</tspan></text>
<g transform="translate(-23.3,0) rotate(-90)"><text x="9.95" class="Y" textLength="86.8" lengthAdjust="spacingAndGlyphs">Relative expression ratio of</text><text x="101.05" class="Y" textLength="12.3" lengthAdjust="spacingAndGlyphs"><tspan font-style="italic">IgM</tspan></text></g>
<path d="M0,-122.6V0.6" stroke="#4c4c4c" stroke-width="1.3" fill="none"/>
<path d="M-2.7,0H0M-2.7,-12.26H0M-2.7,-24.52H0M-2.7,-36.78H0M-2.7,-49.04H0M-2.7,-61.3H0M-2.7,-73.56H0M-2.7,-85.82H0M-2.7,-98.08H0M-2.7,-110.34H0M-2.7,-122.6H0" stroke="#4c4c4c" stroke-width="0.9" fill="none"/>
<text x="-4.5" y="2.5" class="k" text-anchor="end">0</text>
<text x="-4.5" y="-9.76" class="k" text-anchor="end">1</text>
<text x="-4.5" y="-22.02" class="k" text-anchor="end">2</text>
<text x="-4.5" y="-34.28" class="k" text-anchor="end">3</text>
<text x="-4.5" y="-46.54" class="k" text-anchor="end">4</text>
<text x="-4.5" y="-58.8" class="k" text-anchor="end">5</text>
<text x="-4.5" y="-71.06" class="k" text-anchor="end">6</text>
<text x="-4.5" y="-83.32" class="k" text-anchor="end">7</text>
<text x="-4.5" y="-95.58" class="k" text-anchor="end">8</text>
<text x="-4.5" y="-107.84" class="k" text-anchor="end">9</text>
<text x="-4.5" y="-120.1" class="k" text-anchor="end" textLength="6" lengthAdjust="spacingAndGlyphs">10</text>
<rect x="7.55" y="-11.66" width="12" height="11.66" fill="#FCC47F" stroke="#262626" stroke-width="1.25"/>
<text x="13.55" y="-15.66" class="s" text-anchor="middle">a</text>
<path d="M13.55,0V2.5" stroke="#3a3a3a" stroke-width="0.9"/>
<text x="13.55" y="8.6" class="k2" text-anchor="middle">24</text>
<rect x="21.55" y="-11.66" width="12" height="11.66" fill="#FF8200" stroke="#262626" stroke-width="1.25"/>
<text x="27.55" y="-15.66" class="s" text-anchor="middle">a</text>
<path d="M27.55,0V2.5" stroke="#3a3a3a" stroke-width="0.9"/>
<text x="27.55" y="8.6" class="k2" text-anchor="middle">168</text>
<rect x="35.55" y="-11.66" width="12" height="11.66" fill="#B45505" stroke="#262626" stroke-width="1.25"/>
<text x="41.55" y="-15.66" class="s" text-anchor="middle">a</text>
<path d="M41.55,0V2.5" stroke="#3a3a3a" stroke-width="0.9"/>
<text x="41.55" y="8.6" class="k2" text-anchor="middle">336</text>
<path d="M10.35,14.5H44.85" stroke="#8e8e8e" stroke-width="1.1"/>
<text x="16.65" y="23.7" class="g" textLength="21.6" lengthAdjust="spacingAndGlyphs">Control</text>
<rect x="61.95" y="-11.66" width="12" height="11.66" fill="#F888FC" stroke="#262626" stroke-width="1.25"/>
<path d="M67.95,-12.26V-13.36" stroke="#303030" stroke-width="1.25" fill="none"/><path d="M64.55,-13.36H71.35" stroke="#303030" stroke-width="1.6" fill="none"/>
<text x="67.95" y="-16.76" class="s" text-anchor="middle">a</text>
<path d="M67.95,0V2.5" stroke="#3a3a3a" stroke-width="0.9"/>
<text x="67.95" y="8.6" class="k2" text-anchor="middle">24</text>
<rect x="75.95" y="-19.14" width="12" height="19.14" fill="#88009C" stroke="#262626" stroke-width="1.25"/>
<path d="M81.95,-19.74V-25.5" stroke="#303030" stroke-width="1.25" fill="none"/><path d="M78.55,-25.5H85.35" stroke="#303030" stroke-width="1.6" fill="none"/>
<text x="81.95" y="-28.9" class="s" text-anchor="middle">a</text>
<path d="M81.95,0V2.5" stroke="#3a3a3a" stroke-width="0.9"/>
<text x="81.95" y="8.6" class="k2" text-anchor="middle">168</text>
<rect x="89.95" y="-35.32" width="12" height="35.32" fill="#4A0058" stroke="#262626" stroke-width="1.25"/>
<path d="M95.95,-35.92V-46.96" stroke="#303030" stroke-width="1.25" fill="none"/><path d="M92.55,-46.96H99.35" stroke="#303030" stroke-width="1.6" fill="none"/>
<text x="95.95" y="-50.36" class="s" text-anchor="middle">b</text>
<path d="M95.95,0V2.5" stroke="#3a3a3a" stroke-width="0.9"/>
<text x="95.95" y="8.6" class="k2" text-anchor="middle">336</text>
<path d="M65.15,14.5H99.35" stroke="#8e8e8e" stroke-width="1.1"/>
<text x="68.5" y="24.5" class="g" textLength="29.1" lengthAdjust="spacingAndGlyphs">Treatment</text>
<rect x="116.35" y="-11.66" width="12" height="11.66" fill="#E8BFA5" stroke="#262626" stroke-width="1.25"/>
<text x="122.35" y="-15.66" class="s" text-anchor="middle">a</text>
<path d="M122.35,0V2.5" stroke="#3a3a3a" stroke-width="0.9"/>
<text x="122.35" y="8.6" class="k2" text-anchor="middle">C</text>
<rect x="130.35" y="-22.08" width="12" height="22.08" fill="#C07DCA" stroke="#262626" stroke-width="1.25"/>
<path d="M136.35,-22.68V-35.43" stroke="#303030" stroke-width="1.25" fill="none"/><path d="M132.95,-35.43H139.75" stroke="#303030" stroke-width="1.6" fill="none"/>
<text x="136.35" y="-38.83" class="s" text-anchor="middle">b</text>
<path d="M136.35,0V2.5" stroke="#3a3a3a" stroke-width="0.9"/>
<text x="136.35" y="8.6" class="k2" text-anchor="middle">T</text>
<path d="M120.05,14.5H141.05" stroke="#8e8e8e" stroke-width="1.1"/>
<text x="120.55" y="23" class="g" textLength="21.0" lengthAdjust="spacingAndGlyphs">Overall</text>
<text x="114.95" y="29.9" class="g" textLength="32.2" lengthAdjust="spacingAndGlyphs">vaccination</text>
<rect x="156.75" y="-11.66" width="12" height="11.66" fill="#5EFDA8" stroke="#262626" stroke-width="1.25"/>
<path d="M162.75,-12.26V-12.75" stroke="#303030" stroke-width="1.25" fill="none"/><path d="M159.35,-12.75H166.15" stroke="#303030" stroke-width="1.6" fill="none"/>
<text x="162.75" y="-16.15" class="s" text-anchor="middle">a</text>
<path d="M162.75,0V2.5" stroke="#3a3a3a" stroke-width="0.9"/>
<text x="162.75" y="8.6" class="k2" text-anchor="middle">24</text>
<rect x="170.75" y="-15.09" width="12" height="15.09" fill="#00C216" stroke="#262626" stroke-width="1.25"/>
<path d="M176.75,-15.69V-21.45" stroke="#303030" stroke-width="1.25" fill="none"/><path d="M173.35,-21.45H180.15" stroke="#303030" stroke-width="1.6" fill="none"/>
<text x="176.75" y="-24.85" class="s" text-anchor="middle">a</text>
<path d="M176.75,0V2.5" stroke="#3a3a3a" stroke-width="0.9"/>
<text x="176.75" y="8.6" class="k2" text-anchor="middle">168</text>
<rect x="184.75" y="-23.18" width="12" height="23.18" fill="#00550C" stroke="#262626" stroke-width="1.25"/>
<path d="M190.75,-23.78V-39.35" stroke="#303030" stroke-width="1.25" fill="none"/><path d="M187.35,-39.35H194.15" stroke="#303030" stroke-width="1.6" fill="none"/>
<text x="190.75" y="-42.75" class="s" text-anchor="middle">b</text>
<path d="M190.75,0V2.5" stroke="#3a3a3a" stroke-width="0.9"/>
<text x="190.75" y="8.6" class="k2" text-anchor="middle">336</text>
<path d="M160.35,14.5H194.15" stroke="#8e8e8e" stroke-width="1.1"/>
<text x="167.05" y="23" class="g" textLength="21.0" lengthAdjust="spacingAndGlyphs">Overall</text>
<text x="169.75" y="29.9" class="g" textLength="15.6" lengthAdjust="spacingAndGlyphs">times</text>
<path d="M-0.65,0H204.95" stroke="#646464" stroke-width="1.3" fill="none"/>
<text x="67.9" y="51.4" class="X" textLength="70.5" lengthAdjust="spacingAndGlyphs">Hour after vaccination</text>
</g>
<text x="291" y="241.1" class="L">F</text>
<g transform="translate(333.8,392.2) scale(1.0035,1.007)">
<text x="76.9" y="-133.6" class="T" textLength="52.8" lengthAdjust="spacingAndGlyphs">28 DAYC -<tspan font-style="italic">IgM</tspan></text>
<g transform="translate(-23.3,0) rotate(-90)"><text x="9.55" class="Y" textLength="86.8" lengthAdjust="spacingAndGlyphs">Relative expression ratio of</text><text x="100.65" class="Y" textLength="12.3" lengthAdjust="spacingAndGlyphs"><tspan font-style="italic">IgM</tspan></text></g>
<path d="M0,-122.6V0.6" stroke="#4c4c4c" stroke-width="1.3" fill="none"/>
<path d="M-2.7,0H0M-2.7,-12.26H0M-2.7,-24.52H0M-2.7,-36.78H0M-2.7,-49.04H0M-2.7,-61.3H0M-2.7,-73.56H0M-2.7,-85.82H0M-2.7,-98.08H0M-2.7,-110.34H0M-2.7,-122.6H0" stroke="#4c4c4c" stroke-width="0.9" fill="none"/>
<text x="-4.5" y="2.5" class="k" text-anchor="end">0</text>
<text x="-4.5" y="-9.76" class="k" text-anchor="end">1</text>
<text x="-4.5" y="-22.02" class="k" text-anchor="end">2</text>
<text x="-4.5" y="-34.28" class="k" text-anchor="end">3</text>
<text x="-4.5" y="-46.54" class="k" text-anchor="end">4</text>
<text x="-4.5" y="-58.8" class="k" text-anchor="end">5</text>
<text x="-4.5" y="-71.06" class="k" text-anchor="end">6</text>
<text x="-4.5" y="-83.32" class="k" text-anchor="end">7</text>
<text x="-4.5" y="-95.58" class="k" text-anchor="end">8</text>
<text x="-4.5" y="-107.84" class="k" text-anchor="end">9</text>
<text x="-4.5" y="-120.1" class="k" text-anchor="end" textLength="6" lengthAdjust="spacingAndGlyphs">10</text>
<rect x="7.55" y="-11.66" width="12" height="11.66" fill="#FCC47F" stroke="#262626" stroke-width="1.25"/>
<text x="13.55" y="-15.66" class="s" text-anchor="middle">a</text>
<path d="M13.55,0V2.5" stroke="#3a3a3a" stroke-width="0.9"/>
<text x="13.55" y="8.6" class="k2" text-anchor="middle">24</text>
<rect x="21.55" y="-11.66" width="12" height="11.66" fill="#FF8200" stroke="#262626" stroke-width="1.25"/>
<text x="27.55" y="-15.66" class="s" text-anchor="middle">a</text>
<path d="M27.55,0V2.5" stroke="#3a3a3a" stroke-width="0.9"/>
<text x="27.55" y="8.6" class="k2" text-anchor="middle">168</text>
<rect x="35.55" y="-11.66" width="12" height="11.66" fill="#B45505" stroke="#262626" stroke-width="1.25"/>
<text x="41.55" y="-15.66" class="s" text-anchor="middle">a</text>
<path d="M41.55,0V2.5" stroke="#3a3a3a" stroke-width="0.9"/>
<text x="41.55" y="8.6" class="k2" text-anchor="middle">336</text>
<path d="M10.35,14.5H44.85" stroke="#8e8e8e" stroke-width="1.1"/>
<text x="16.65" y="23.7" class="g" textLength="21.6" lengthAdjust="spacingAndGlyphs">Control</text>
<rect x="61.95" y="-22.08" width="12" height="22.08" fill="#F888FC" stroke="#262626" stroke-width="1.25"/>
<path d="M67.95,-22.68V-26.6" stroke="#303030" stroke-width="1.25" fill="none"/><path d="M64.55,-26.6H71.35" stroke="#303030" stroke-width="1.6" fill="none"/>
<text x="67.95" y="-30" class="s" text-anchor="middle">a</text>
<path d="M67.95,0V2.5" stroke="#3a3a3a" stroke-width="0.9"/>
<text x="67.95" y="8.6" class="k2" text-anchor="middle">24</text>
<rect x="75.95" y="-55.92" width="12" height="55.92" fill="#88009C" stroke="#262626" stroke-width="1.25"/>
<path d="M81.95,-56.52V-69.02" stroke="#303030" stroke-width="1.25" fill="none"/><path d="M78.55,-69.02H85.35" stroke="#303030" stroke-width="1.6" fill="none"/>
<text x="81.95" y="-72.42" class="s" text-anchor="middle">b</text>
<path d="M81.95,0V2.5" stroke="#3a3a3a" stroke-width="0.9"/>
<text x="81.95" y="8.6" class="k2" text-anchor="middle">168</text>
<rect x="89.95" y="-53.96" width="12" height="53.96" fill="#4A0058" stroke="#262626" stroke-width="1.25"/>
<path d="M95.95,-54.56V-68.04" stroke="#303030" stroke-width="1.25" fill="none"/><path d="M92.55,-68.04H99.35" stroke="#303030" stroke-width="1.6" fill="none"/>
<text x="95.95" y="-71.44" class="s" text-anchor="middle">b</text>
<path d="M95.95,0V2.5" stroke="#3a3a3a" stroke-width="0.9"/>
<text x="95.95" y="8.6" class="k2" text-anchor="middle">336</text>
<path d="M65.15,14.5H99.35" stroke="#8e8e8e" stroke-width="1.1"/>
<text x="68.5" y="24.5" class="g" textLength="29.1" lengthAdjust="spacingAndGlyphs">Treatment</text>
<rect x="116.35" y="-11.66" width="12" height="11.66" fill="#E8BFA5" stroke="#262626" stroke-width="1.25"/>
<text x="122.35" y="-15.66" class="s" text-anchor="middle">a</text>
<path d="M122.35,0V2.5" stroke="#3a3a3a" stroke-width="0.9"/>
<text x="122.35" y="8.6" class="k2" text-anchor="middle">C</text>
<rect x="130.35" y="-44.03" width="12" height="44.03" fill="#C07DCA" stroke="#262626" stroke-width="1.25"/>
<path d="M136.35,-44.63V-63.75" stroke="#303030" stroke-width="1.25" fill="none"/><path d="M132.95,-63.75H139.75" stroke="#303030" stroke-width="1.6" fill="none"/>
<text x="136.35" y="-67.15" class="s" text-anchor="middle">b</text>
<path d="M136.35,0V2.5" stroke="#3a3a3a" stroke-width="0.9"/>
<text x="136.35" y="8.6" class="k2" text-anchor="middle">T</text>
<path d="M120.05,14.5H141.05" stroke="#8e8e8e" stroke-width="1.1"/>
<text x="120.55" y="23" class="g" textLength="21.0" lengthAdjust="spacingAndGlyphs">Overall</text>
<text x="114.95" y="29.9" class="g" textLength="32.2" lengthAdjust="spacingAndGlyphs">vaccination</text>
<rect x="156.75" y="-16.44" width="12" height="16.44" fill="#5EFDA8" stroke="#262626" stroke-width="1.25"/>
<path d="M162.75,-17.04V-23.66" stroke="#303030" stroke-width="1.25" fill="none"/><path d="M159.35,-23.66H166.15" stroke="#303030" stroke-width="1.6" fill="none"/>
<text x="162.75" y="-27.06" class="s" text-anchor="middle">a</text>
<path d="M162.75,0V2.5" stroke="#3a3a3a" stroke-width="0.9"/>
<text x="162.75" y="8.6" class="k2" text-anchor="middle">24</text>
<rect x="170.75" y="-33.61" width="12" height="33.61" fill="#008C0A" stroke="#262626" stroke-width="1.25"/>
<path d="M176.75,-34.21V-60.32" stroke="#303030" stroke-width="1.25" fill="none"/><path d="M173.35,-60.32H180.15" stroke="#303030" stroke-width="1.6" fill="none"/>
<text x="176.75" y="-63.72" class="s" text-anchor="middle">b</text>
<path d="M176.75,0V2.5" stroke="#3a3a3a" stroke-width="0.9"/>
<text x="176.75" y="8.6" class="k2" text-anchor="middle">168</text>
<rect x="184.75" y="-32.38" width="12" height="32.38" fill="#00550C" stroke="#262626" stroke-width="1.25"/>
<path d="M190.75,-32.98V-58.36" stroke="#303030" stroke-width="1.25" fill="none"/><path d="M187.35,-58.36H194.15" stroke="#303030" stroke-width="1.6" fill="none"/>
<text x="190.75" y="-61.76" class="s" text-anchor="middle">b</text>
<path d="M190.75,0V2.5" stroke="#3a3a3a" stroke-width="0.9"/>
<text x="190.75" y="8.6" class="k2" text-anchor="middle">336</text>
<path d="M160.35,14.5H194.15" stroke="#8e8e8e" stroke-width="1.1"/>
<text x="167.05" y="23" class="g" textLength="21.0" lengthAdjust="spacingAndGlyphs">Overall</text>
<text x="169.75" y="29.9" class="g" textLength="15.6" lengthAdjust="spacingAndGlyphs">times</text>
<path d="M-0.65,0H204.95" stroke="#646464" stroke-width="1.3" fill="none"/>
<text x="67.9" y="51.8" class="X" textLength="70.5" lengthAdjust="spacingAndGlyphs">Hour after vaccination</text>
</g>
<text x="289.5" y="469.3" class="L">G</text>
<g transform="translate(333.9,619.8) scale(1.0035,1.007)">
<text x="76.9" y="-133.8" class="T" textLength="52.8" lengthAdjust="spacingAndGlyphs">35 DAYC -<tspan font-style="italic">IgM</tspan></text>
<g transform="translate(-23.3,0) rotate(-90)"><text x="8.85" class="Y" textLength="86.8" lengthAdjust="spacingAndGlyphs">Relative expression ratio of</text><text x="99.95" class="Y" textLength="12.3" lengthAdjust="spacingAndGlyphs"><tspan font-style="italic">IgM</tspan></text></g>
<path d="M0,-122.6V0.6" stroke="#4c4c4c" stroke-width="1.3" fill="none"/>
<path d="M-2.7,0H0M-2.7,-12.26H0M-2.7,-24.52H0M-2.7,-36.78H0M-2.7,-49.04H0M-2.7,-61.3H0M-2.7,-73.56H0M-2.7,-85.82H0M-2.7,-98.08H0M-2.7,-110.34H0M-2.7,-122.6H0" stroke="#4c4c4c" stroke-width="0.9" fill="none"/>
<text x="-4.5" y="2.5" class="k" text-anchor="end">0</text>
<text x="-4.5" y="-9.76" class="k" text-anchor="end">1</text>
<text x="-4.5" y="-22.02" class="k" text-anchor="end">2</text>
<text x="-4.5" y="-34.28" class="k" text-anchor="end">3</text>
<text x="-4.5" y="-46.54" class="k" text-anchor="end">4</text>
<text x="-4.5" y="-58.8" class="k" text-anchor="end">5</text>
<text x="-4.5" y="-71.06" class="k" text-anchor="end">6</text>
<text x="-4.5" y="-83.32" class="k" text-anchor="end">7</text>
<text x="-4.5" y="-95.58" class="k" text-anchor="end">8</text>
<text x="-4.5" y="-107.84" class="k" text-anchor="end">9</text>
<text x="-4.5" y="-120.1" class="k" text-anchor="end" textLength="6" lengthAdjust="spacingAndGlyphs">10</text>
<rect x="7.55" y="-11.66" width="12" height="11.66" fill="#FCC47F" stroke="#262626" stroke-width="1.25"/>
<text x="13.55" y="-15.66" class="s" text-anchor="middle">a</text>
<path d="M13.55,0V2.5" stroke="#3a3a3a" stroke-width="0.9"/>
<text x="13.55" y="8.6" class="k2" text-anchor="middle">24</text>
<rect x="21.55" y="-11.66" width="12" height="11.66" fill="#FF8200" stroke="#262626" stroke-width="1.25"/>
<text x="27.55" y="-15.66" class="s" text-anchor="middle">a</text>
<path d="M27.55,0V2.5" stroke="#3a3a3a" stroke-width="0.9"/>
<text x="27.55" y="8.6" class="k2" text-anchor="middle">168</text>
<rect x="35.55" y="-11.66" width="12" height="11.66" fill="#B45505" stroke="#262626" stroke-width="1.25"/>
<text x="41.55" y="-15.66" class="s" text-anchor="middle">a</text>
<path d="M41.55,0V2.5" stroke="#3a3a3a" stroke-width="0.9"/>
<text x="41.55" y="8.6" class="k2" text-anchor="middle">336</text>
<path d="M10.35,14.5H44.85" stroke="#8e8e8e" stroke-width="1.1"/>
<text x="16.65" y="23.7" class="g" textLength="21.6" lengthAdjust="spacingAndGlyphs">Control</text>
<rect x="61.95" y="-21.71" width="12" height="21.71" fill="#F888FC" stroke="#262626" stroke-width="1.25"/>
<path d="M67.95,-22.31V-27.95" stroke="#303030" stroke-width="1.25" fill="none"/><path d="M64.55,-27.95H71.35" stroke="#303030" stroke-width="1.6" fill="none"/>
<text x="67.95" y="-31.35" class="s" text-anchor="middle">a</text>
<path d="M67.95,0V2.5" stroke="#3a3a3a" stroke-width="0.9"/>
<text x="67.95" y="8.6" class="k2" text-anchor="middle">24</text>
<rect x="75.95" y="-68.79" width="12" height="68.79" fill="#88009C" stroke="#262626" stroke-width="1.25"/>
<path d="M81.95,-69.39V-83.86" stroke="#303030" stroke-width="1.25" fill="none"/><path d="M78.55,-83.86H85.35" stroke="#303030" stroke-width="1.6" fill="none"/>
<text x="81.95" y="-87.26" class="s" text-anchor="middle">b</text>
<path d="M81.95,0V2.5" stroke="#3a3a3a" stroke-width="0.9"/>
<text x="81.95" y="8.6" class="k2" text-anchor="middle">168</text>
<rect x="89.95" y="-68.91" width="12" height="68.91" fill="#4A0058" stroke="#262626" stroke-width="1.25"/>
<path d="M95.95,-69.51V-80.3" stroke="#303030" stroke-width="1.25" fill="none"/><path d="M92.55,-80.3H99.35" stroke="#303030" stroke-width="1.6" fill="none"/>
<text x="95.95" y="-83.7" class="s" text-anchor="middle">b</text>
<path d="M95.95,0V2.5" stroke="#3a3a3a" stroke-width="0.9"/>
<text x="95.95" y="8.6" class="k2" text-anchor="middle">336</text>
<path d="M65.15,14.5H99.35" stroke="#8e8e8e" stroke-width="1.1"/>
<text x="68.5" y="24.5" class="g" textLength="29.1" lengthAdjust="spacingAndGlyphs">Treatment</text>
<rect x="116.35" y="-11.66" width="12" height="11.66" fill="#E8BFA5" stroke="#262626" stroke-width="1.25"/>
<text x="122.35" y="-15.66" class="s" text-anchor="middle">a</text>
<path d="M122.35,0V2.5" stroke="#3a3a3a" stroke-width="0.9"/>
<text x="122.35" y="8.6" class="k2" text-anchor="middle">C</text>
<rect x="130.35" y="-52.98" width="12" height="52.98" fill="#C07DCA" stroke="#262626" stroke-width="1.25"/>
<path d="M136.35,-53.58V-79.44" stroke="#303030" stroke-width="1.25" fill="none"/><path d="M132.95,-79.44H139.75" stroke="#303030" stroke-width="1.6" fill="none"/>
<text x="136.35" y="-82.84" class="s" text-anchor="middle">b</text>
<path d="M136.35,0V2.5" stroke="#3a3a3a" stroke-width="0.9"/>
<text x="136.35" y="8.6" class="k2" text-anchor="middle">T</text>
<path d="M120.05,14.5H141.05" stroke="#8e8e8e" stroke-width="1.1"/>
<text x="120.55" y="23" class="g" textLength="21.0" lengthAdjust="spacingAndGlyphs">Overall</text>
<text x="114.95" y="29.9" class="g" textLength="32.2" lengthAdjust="spacingAndGlyphs">vaccination</text>
<rect x="156.75" y="-16.56" width="12" height="16.56" fill="#5EFDA8" stroke="#262626" stroke-width="1.25"/>
<path d="M162.75,-17.16V-24.15" stroke="#303030" stroke-width="1.25" fill="none"/><path d="M159.35,-24.15H166.15" stroke="#303030" stroke-width="1.6" fill="none"/>
<text x="162.75" y="-27.55" class="s" text-anchor="middle">a</text>
<path d="M162.75,0V2.5" stroke="#3a3a3a" stroke-width="0.9"/>
<text x="162.75" y="8.6" class="k2" text-anchor="middle">24</text>
<rect x="170.75" y="-39.74" width="12" height="39.74" fill="#00C216" stroke="#262626" stroke-width="1.25"/>
<path d="M176.75,-40.34V-73.56" stroke="#303030" stroke-width="1.25" fill="none"/><path d="M173.35,-73.56H180.15" stroke="#303030" stroke-width="1.6" fill="none"/>
<text x="176.75" y="-76.96" class="s" text-anchor="middle">b</text>
<path d="M176.75,0V2.5" stroke="#3a3a3a" stroke-width="0.9"/>
<text x="176.75" y="8.6" class="k2" text-anchor="middle">168</text>
<rect x="184.75" y="-39.74" width="12" height="39.74" fill="#00550C" stroke="#262626" stroke-width="1.25"/>
<path d="M190.75,-40.34V-73.56" stroke="#303030" stroke-width="1.25" fill="none"/><path d="M187.35,-73.56H194.15" stroke="#303030" stroke-width="1.6" fill="none"/>
<text x="190.75" y="-76.96" class="s" text-anchor="middle">b</text>
<path d="M190.75,0V2.5" stroke="#3a3a3a" stroke-width="0.9"/>
<text x="190.75" y="8.6" class="k2" text-anchor="middle">336</text>
<path d="M160.35,14.5H194.15" stroke="#8e8e8e" stroke-width="1.1"/>
<text x="167.05" y="23" class="g" textLength="21.0" lengthAdjust="spacingAndGlyphs">Overall</text>
<text x="169.75" y="29.9" class="g" textLength="15.6" lengthAdjust="spacingAndGlyphs">times</text>
<path d="M-0.65,0H204.95" stroke="#646464" stroke-width="1.3" fill="none"/>
<text x="67.9" y="51.4" class="X" textLength="70.5" lengthAdjust="spacingAndGlyphs">Hour after vaccination</text>
</g>
<text x="290.1" y="697.3" class="L">H</text>
<g transform="translate(333.9,849.9) scale(1.0035,1.007)">
<text x="76.9" y="-133.8" class="T" textLength="52.8" lengthAdjust="spacingAndGlyphs">42 DAYC -<tspan font-style="italic">IgM</tspan></text>
<g transform="translate(-23.3,0) rotate(-90)"><text x="9.35" class="Y" textLength="86.8" lengthAdjust="spacingAndGlyphs">Relative expression ratio of</text><text x="100.45" class="Y" textLength="12.3" lengthAdjust="spacingAndGlyphs"><tspan font-style="italic">IgM</tspan></text></g>
<path d="M0,-122.6V0.6" stroke="#4c4c4c" stroke-width="1.3" fill="none"/>
<path d="M-2.7,0H0M-2.7,-12.26H0M-2.7,-24.52H0M-2.7,-36.78H0M-2.7,-49.04H0M-2.7,-61.3H0M-2.7,-73.56H0M-2.7,-85.82H0M-2.7,-98.08H0M-2.7,-110.34H0M-2.7,-122.6H0" stroke="#4c4c4c" stroke-width="0.9" fill="none"/>
<text x="-4.5" y="2.5" class="k" text-anchor="end">0</text>
<text x="-4.5" y="-9.76" class="k" text-anchor="end">1</text>
<text x="-4.5" y="-22.02" class="k" text-anchor="end">2</text>
<text x="-4.5" y="-34.28" class="k" text-anchor="end">3</text>
<text x="-4.5" y="-46.54" class="k" text-anchor="end">4</text>
<text x="-4.5" y="-58.8" class="k" text-anchor="end">5</text>
<text x="-4.5" y="-71.06" class="k" text-anchor="end">6</text>
<text x="-4.5" y="-83.32" class="k" text-anchor="end">7</text>
<text x="-4.5" y="-95.58" class="k" text-anchor="end">8</text>
<text x="-4.5" y="-107.84" class="k" text-anchor="end">9</text>
<text x="-4.5" y="-120.1" class="k" text-anchor="end" textLength="6" lengthAdjust="spacingAndGlyphs">10</text>
<rect x="7.55" y="-11.66" width="12" height="11.66" fill="#FCC47F" stroke="#262626" stroke-width="1.25"/>
<text x="13.55" y="-15.66" class="s" text-anchor="middle">a</text>
<path d="M13.55,0V2.5" stroke="#3a3a3a" stroke-width="0.9"/>
<text x="13.55" y="8.6" class="k2" text-anchor="middle">24</text>
<rect x="21.55" y="-11.66" width="12" height="11.66" fill="#FF8200" stroke="#262626" stroke-width="1.25"/>
<text x="27.55" y="-15.66" class="s" text-anchor="middle">a</text>
<path d="M27.55,0V2.5" stroke="#3a3a3a" stroke-width="0.9"/>
<text x="27.55" y="8.6" class="k2" text-anchor="middle">168</text>
<rect x="35.55" y="-11.66" width="12" height="11.66" fill="#B45505" stroke="#262626" stroke-width="1.25"/>
<text x="41.55" y="-15.66" class="s" text-anchor="middle">a</text>
<path d="M41.55,0V2.5" stroke="#3a3a3a" stroke-width="0.9"/>
<text x="41.55" y="8.6" class="k2" text-anchor="middle">336</text>
<path d="M10.35,14.5H44.85" stroke="#8e8e8e" stroke-width="1.1"/>
<text x="16.65" y="23.7" class="g" textLength="21.6" lengthAdjust="spacingAndGlyphs">Control</text>
<rect x="61.95" y="-18.53" width="12" height="18.53" fill="#F888FC" stroke="#262626" stroke-width="1.25"/>
<path d="M67.95,-19.13V-23.78" stroke="#303030" stroke-width="1.25" fill="none"/><path d="M64.55,-23.78H71.35" stroke="#303030" stroke-width="1.6" fill="none"/>
<text x="67.95" y="-27.18" class="s" text-anchor="middle">a</text>
<path d="M67.95,0V2.5" stroke="#3a3a3a" stroke-width="0.9"/>
<text x="67.95" y="8.6" class="k2" text-anchor="middle">24</text>
<rect x="75.95" y="-56.53" width="12" height="56.53" fill="#88009C" stroke="#262626" stroke-width="1.25"/>
<path d="M81.95,-57.13V-74.3" stroke="#303030" stroke-width="1.25" fill="none"/><path d="M78.55,-74.3H85.35" stroke="#303030" stroke-width="1.6" fill="none"/>
<text x="81.95" y="-77.7" class="s" text-anchor="middle">b</text>
<path d="M81.95,0V2.5" stroke="#3a3a3a" stroke-width="0.9"/>
<text x="81.95" y="8.6" class="k2" text-anchor="middle">168</text>
<rect x="89.95" y="-64.75" width="12" height="64.75" fill="#4A0058" stroke="#262626" stroke-width="1.25"/>
<path d="M95.95,-65.35V-82.63" stroke="#303030" stroke-width="1.25" fill="none"/><path d="M92.55,-82.63H99.35" stroke="#303030" stroke-width="1.6" fill="none"/>
<text x="95.95" y="-86.03" class="s" text-anchor="middle">b</text>
<path d="M95.95,0V2.5" stroke="#3a3a3a" stroke-width="0.9"/>
<text x="95.95" y="8.6" class="k2" text-anchor="middle">336</text>
<path d="M65.15,14.5H99.35" stroke="#8e8e8e" stroke-width="1.1"/>
<text x="68.5" y="24.5" class="g" textLength="29.1" lengthAdjust="spacingAndGlyphs">Treatment</text>
<rect x="116.35" y="-11.66" width="12" height="11.66" fill="#E8BFA5" stroke="#262626" stroke-width="1.25"/>
<text x="122.35" y="-15.66" class="s" text-anchor="middle">a</text>
<path d="M122.35,0V2.5" stroke="#3a3a3a" stroke-width="0.9"/>
<text x="122.35" y="8.6" class="k2" text-anchor="middle">C</text>
<rect x="130.35" y="-46.97" width="12" height="46.97" fill="#C07DCA" stroke="#262626" stroke-width="1.25"/>
<path d="M136.35,-47.57V-72.33" stroke="#303030" stroke-width="1.25" fill="none"/><path d="M132.95,-72.33H139.75" stroke="#303030" stroke-width="1.6" fill="none"/>
<text x="136.35" y="-75.73" class="s" text-anchor="middle">b</text>
<path d="M136.35,0V2.5" stroke="#3a3a3a" stroke-width="0.9"/>
<text x="136.35" y="8.6" class="k2" text-anchor="middle">T</text>
<path d="M120.05,14.5H141.05" stroke="#8e8e8e" stroke-width="1.1"/>
<text x="120.55" y="23" class="g" textLength="21.0" lengthAdjust="spacingAndGlyphs">Overall</text>
<text x="114.95" y="29.9" class="g" textLength="32.2" lengthAdjust="spacingAndGlyphs">vaccination</text>
<rect x="156.75" y="-15.09" width="12" height="15.09" fill="#5EFDA8" stroke="#262626" stroke-width="1.25"/>
<path d="M162.75,-15.69V-20.84" stroke="#303030" stroke-width="1.25" fill="none"/><path d="M159.35,-20.84H166.15" stroke="#303030" stroke-width="1.6" fill="none"/>
<text x="162.75" y="-24.24" class="s" text-anchor="middle">a</text>
<path d="M162.75,0V2.5" stroke="#3a3a3a" stroke-width="0.9"/>
<text x="162.75" y="8.6" class="k2" text-anchor="middle">24</text>
<rect x="170.75" y="-33.85" width="12" height="33.85" fill="#00C216" stroke="#262626" stroke-width="1.25"/>
<path d="M176.75,-34.45V-62.4" stroke="#303030" stroke-width="1.25" fill="none"/><path d="M173.35,-62.4H180.15" stroke="#303030" stroke-width="1.6" fill="none"/>
<text x="176.75" y="-65.8" class="s" text-anchor="middle">b</text>
<path d="M176.75,0V2.5" stroke="#3a3a3a" stroke-width="0.9"/>
<text x="176.75" y="8.6" class="k2" text-anchor="middle">168</text>
<rect x="184.75" y="-38.26" width="12" height="38.26" fill="#00550C" stroke="#262626" stroke-width="1.25"/>
<path d="M190.75,-38.86V-70.13" stroke="#303030" stroke-width="1.25" fill="none"/><path d="M187.35,-70.13H194.15" stroke="#303030" stroke-width="1.6" fill="none"/>
<text x="190.75" y="-73.53" class="s" text-anchor="middle">b</text>
<path d="M190.75,0V2.5" stroke="#3a3a3a" stroke-width="0.9"/>
<text x="190.75" y="8.6" class="k2" text-anchor="middle">336</text>
<path d="M160.35,14.5H194.15" stroke="#8e8e8e" stroke-width="1.1"/>
<text x="167.05" y="23" class="g" textLength="21.0" lengthAdjust="spacingAndGlyphs">Overall</text>
<text x="169.75" y="29.9" class="g" textLength="15.6" lengthAdjust="spacingAndGlyphs">times</text>
<path d="M-0.65,0H204.95" stroke="#646464" stroke-width="1.3" fill="none"/>
<text x="67.9" y="51.4" class="X" textLength="70.5" lengthAdjust="spacingAndGlyphs">Hour after vaccination</text>
</g>
</svg>
</div></div>
</body></html>
